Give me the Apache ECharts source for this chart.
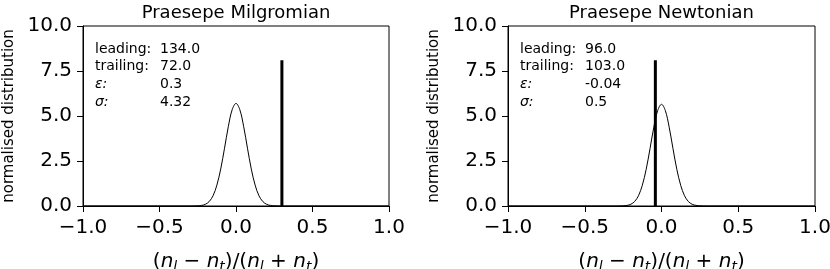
<!DOCTYPE html>
<html><head><meta charset="utf-8">
<script src="https://cdn.jsdelivr.net/npm/echarts@6/dist/echarts.min.js"></script>
<style>html,body{margin:0;padding:0;background:#fff}#c{width:830px;height:269px}</style>
</head><body><div id="c"></div>
<script>
// ---- data ----
const titles = ["Praesepe Milgromian", "Praesepe Newtonian"];
const curveX = [-1.0, -0.3, -0.25, -0.225, -0.2, -0.175, -0.15, -0.125, -0.1, -0.075, -0.05, -0.025, 0.0, 0.025, 0.05, 0.075, 0.1, 0.125, 0.15, 0.175, 0.2, 0.225, 0.25, 0.3, 1.0];
const curveMilgromian = [0, 0, 0.010, 0.033, 0.096, 0.25, 0.57, 1.16, 2.05, 3.21, 4.42, 5.35, 5.70, 5.35, 4.42, 3.21, 2.05, 1.16, 0.57, 0.25, 0.096, 0.033, 0.010, 0, 0];
const curveNewtonian = [0, 0, 0.010, 0.033, 0.095, 0.25, 0.57, 1.15, 2.03, 3.18, 4.38, 5.30, 5.65, 5.30, 4.38, 3.18, 2.03, 1.15, 0.57, 0.25, 0.095, 0.033, 0.010, 0, 0];
const observedEps = [0.3, -0.04];
const observedTop = [8.1, 8.1];
const annLabels = ["leading:", "trailing:", "ε:", "σ:"];
const annMilgromian = ["134.0", "72.0", "0.3", "4.32"];
const annNewtonian = ["96.0", "103.0", "-0.04", "0.5"];
const xTicks = [-1.0, -0.5, 0.0, 0.5, 1.0];
const yTicks = [0.0, 2.5, 5.0, 7.5, 10.0];
// ---- chart ----
const FONT = "DejaVu Sans";
const chart = echarts.init(document.getElementById('c'), null, {renderer: 'canvas'});
const grids = [{left: 83, top: 26, width: 306, height: 180}, {left: 508, top: 26, width: 307, height: 180}];
const fmtX = v => (v < 0 ? '\u2212' : '') + Math.abs(v).toFixed(1);
const xName = '{p|(}{n|n}{s|l}{p| \u2212 }{n|n}{s|t}{p|)/(}{n|n}{s|l}{p| + }{n|n}{s|t}{p|)}';
const rich = {
  p: {fontFamily: FONT, fontSize: 20, color: '#000'},
  n: {fontFamily: FONT, fontSize: 20, fontStyle: 'italic', color: '#000'},
  s: {fontFamily: FONT, fontSize: 14, fontStyle: 'italic', color: '#000', padding: [11, 0, 0, 0]}
};
const xAxes = [], yAxes = [], series = [];
[0, 1].forEach(i => {
  xAxes.push({
    gridIndex: i, type: 'value', min: xTicks[0], max: xTicks[xTicks.length - 1], interval: 0.5,
    axisLine: {show: true, onZero: false, lineStyle: {color: '#000', width: 1}},
    axisTick: {show: true, length: 6, lineStyle: {color: '#000'}},
    axisLabel: {fontFamily: FONT, fontSize: 20, color: '#000', margin: 12, formatter: fmtX},
    splitLine: {show: false},
    name: xName, nameLocation: 'middle', nameGap: 43,
    nameTextStyle: {rich: rich}
  });
  yAxes.push({
    gridIndex: i, type: 'value', min: yTicks[0], max: yTicks[yTicks.length - 1], interval: 2.5,
    axisLine: {show: true, onZero: false, lineStyle: {color: '#000', width: 1}},
    axisTick: {show: true, length: 6, lineStyle: {color: '#000'}},
    axisLabel: {fontFamily: FONT, fontSize: 20, color: '#000', margin: 11, formatter: v => v.toFixed(1)},
    splitLine: {show: false},
    name: 'normalised distribution', nameLocation: 'middle', nameGap: 66, nameRotate: 90,
    nameTextStyle: {fontFamily: FONT, fontSize: 15, color: '#000'}
  });
  const cy = i === 0 ? curveMilgromian : curveNewtonian;
  series.push({
    type: 'line', xAxisIndex: i, yAxisIndex: i, showSymbol: false, smooth: 0.35,
    data: curveX.map((x, k) => [x, cy[k]]),
    lineStyle: {color: '#000', width: 1}, z: 2
  });
  series.push({
    type: 'line', xAxisIndex: i, yAxisIndex: i, showSymbol: false,
    data: [[observedEps[i], 0], [observedEps[i], observedTop[i]]],
    lineStyle: {color: '#000', width: 3}, z: 3
  });
});
const graphic = [];
[0, 1].forEach(i => {
  const g = grids[i];
  graphic.push({type: 'text', x: g.left + g.width / 2, y: 13,
    style: {text: titles[i], font: '18px "DejaVu Sans"', fill: '#000', textAlign: 'center', textVerticalAlign: 'middle'}});
  const vals = i === 0 ? annMilgromian : annNewtonian;
  annLabels.forEach((lab, k) => {
    const y = 49 + k * 17.8;
    const italic = k >= 2;
    graphic.push({type: 'text', x: g.left + 12, y: y,
      style: {text: lab, font: (italic ? 'italic ' : '') + '14px "DejaVu Sans"', fill: '#000', textVerticalAlign: 'middle'}});
    graphic.push({type: 'text', x: g.left + 77, y: y,
      style: {text: vals[k], font: '14px "DejaVu Sans"', fill: '#000', textVerticalAlign: 'middle'}});
  });
});
chart.setOption({
  animation: false,
  backgroundColor: '#fff',
  grid: grids.map(g => Object.assign({show: true, borderColor: '#000', borderWidth: 1, backgroundColor: 'transparent', containLabel: false, outerBoundsMode: 'none'}, g)),
  xAxis: xAxes, yAxis: yAxes, series: series, graphic: graphic
});
</script></body></html>
